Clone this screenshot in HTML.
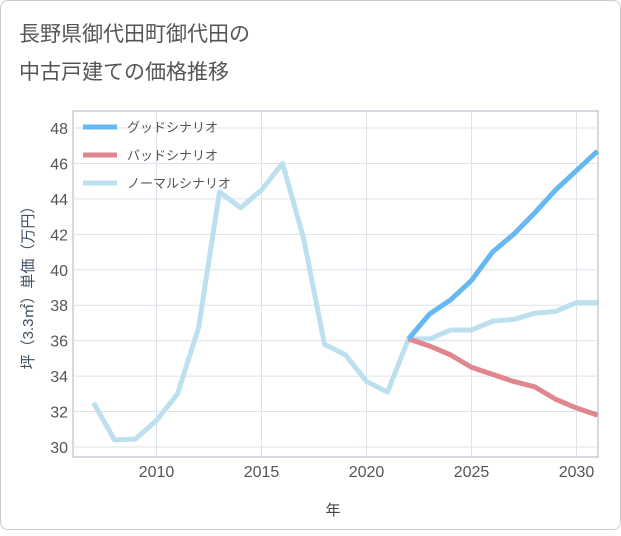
<!DOCTYPE html>
<html><head><meta charset="utf-8">
<style>
body{margin:0;background:#fff;}
#card{position:absolute;left:0;top:0;width:619px;height:528px;border:1px solid #ccc;border-radius:8px;background:#fff;}
text{font-family:"Liberation Sans","Noto Sans CJK JP",sans-serif;}
</style></head><body>
<div id="card">
<svg id="chart" width="621" height="530">
<text x="18" y="40" font-size="21" fill="#555">長野県御代田町御代田の</text>
<text x="18" y="78" font-size="21" fill="#555">中古戸建ての価格推移</text>
<g id="grid"></g><g id="axes"></g><g id="series"></g><g id="legend"></g>
<text x="332" y="514" font-size="15" fill="#444" text-anchor="middle">年</text>
<text transform="translate(32,283) rotate(-90)" font-size="15" fill="#3f5060" text-anchor="middle">坪（3.3㎡）単価（万円）</text>
</svg></div>
<script>
const years=[2007,2008,2009,2010,2011,2012,2013,2014,2015,2016,2017,2018,2019,2020,2021,2022,2023,2024,2025,2026,2027,2028,2029,2030,2031];
const normalVals=[32.5,30.4,30.45,31.5,33,36.7,44.4,43.5,44.5,46,41.8,35.8,35.2,33.7,33.1,36.1,36.1,36.6,36.6,37.1,37.2,37.55,37.65,38.15,38.15];
const futureYears=[2022,2023,2024,2025,2026,2027,2028,2029,2030,2031];
const goodVals=[36.1,37.5,38.3,39.4,41.0,42.0,43.2,44.5,45.6,46.7];
const badVals=[36.1,35.7,35.2,34.5,34.1,33.7,33.4,32.7,32.2,31.8];
const xTicks=[2010,2015,2020,2025,2030];
const yTicks=[30,32,34,36,38,40,42,44,46,48];
const L=72,R=597,T=110,B=456;
const x=v=>155.5+(v-2010)*21.0;
const y=v=>446-(v-30)*17.72;
const NS='http://www.w3.org/2000/svg';
function mk(tag,attrs,parent){const e=document.createElementNS(NS,tag);for(const k in attrs)e.setAttribute(k,attrs[k]);document.getElementById(parent).appendChild(e);return e;}
const bg=mk('rect',{x:L,y:T,width:R-L,height:B-T,fill:'#fff',stroke:'#aab4c0'},'grid');


yTicks.forEach(t=>{const g=mk('line',{x1:L,x2:R,y1:y(t),y2:y(t),stroke:'#dde3ea'},'grid');


const tx=mk('text',{x:L-5,y:y(t)+6,'font-size':16,fill:'#555','text-anchor':'end'},'axes');tx.textContent=t;

});
xTicks.forEach(t=>{const g=mk('line',{y1:T,y2:B,x1:x(t),x2:x(t),stroke:'#dde3ea'},'grid');


const tx=mk('text',{x:x(t),y:B+20,'font-size':16,fill:'#555','text-anchor':'middle'},'axes');tx.textContent=t;

});
function line(xs,vs,color,name){const p=mk('polyline',{points:xs.map((v,i)=>x(v)+','+y(vs[i])).join(' '),fill:'none',stroke:color,'stroke-width':5,'stroke-linejoin':'round'},'series');

}
line(years,normalVals,'#bde0ee','normal-scenario-line');
line(futureYears,badVals,'#e0868f','bad-scenario-line');
line(futureYears,goodVals,'#66b8f0','good-scenario-line');
const leg=[['グッドシナリオ','#66b8f0'],['バッドシナリオ','#e0868f'],['ノーマルシナリオ','#bde0ee']];
leg.forEach((d,i)=>{const yy=126+i*28;
const l=mk('line',{x1:82,x2:116,y1:yy,y2:yy,stroke:d[1],'stroke-width':5},'legend');


const t=mk('text',{x:126,y:yy+5,'font-size':13,fill:'#555'},'legend');t.textContent=d[0];

});
</script>
</body></html>
